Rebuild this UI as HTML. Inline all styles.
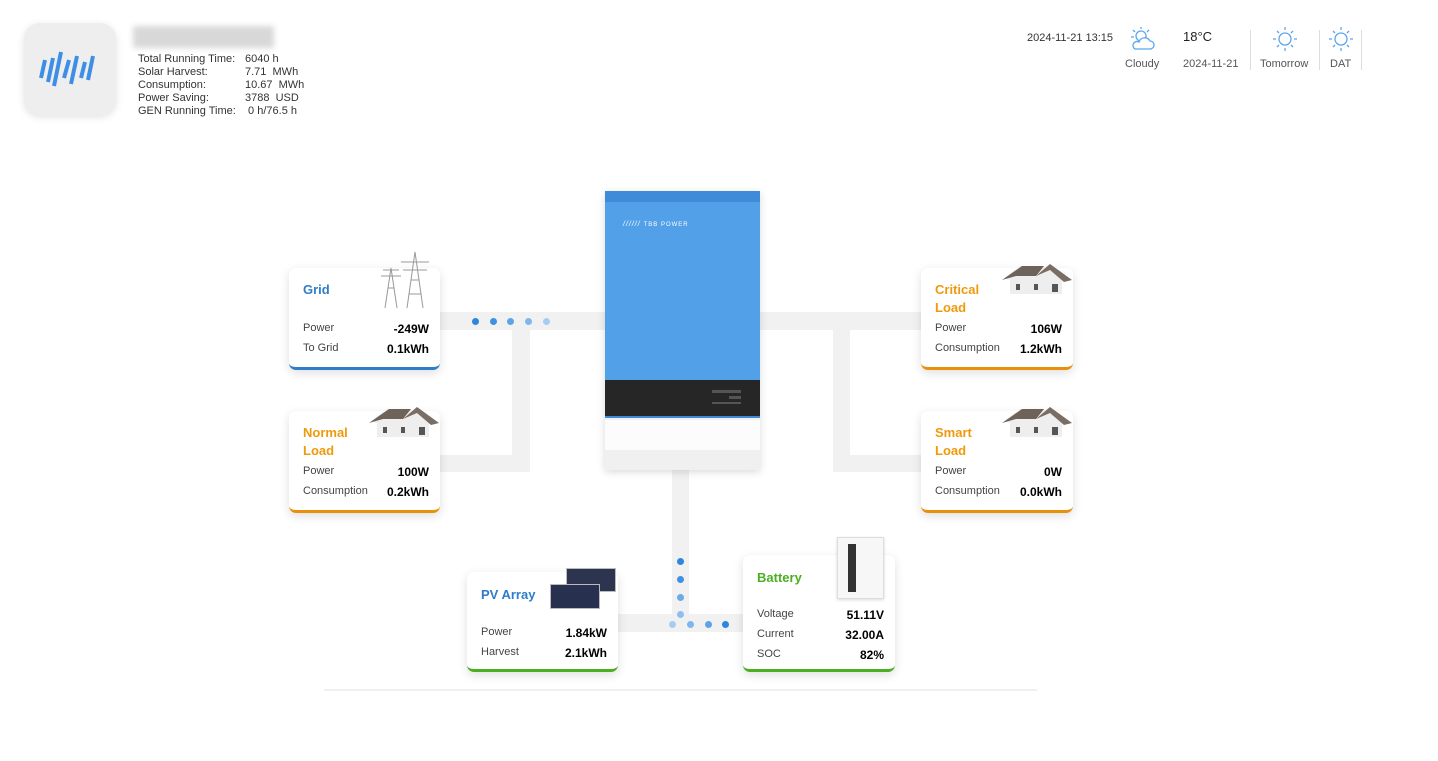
<!DOCTYPE html>
<html><head><meta charset="utf-8"><style>
*{margin:0;padding:0;box-sizing:border-box}
body{width:1438px;height:761px;background:#fff;position:relative;overflow:hidden;font-family:"Liberation Sans",Arial,sans-serif;color:#333}
.a{position:absolute}
.ln{position:absolute;background:#f1f1f1}
.card{position:absolute;background:#fff;border-radius:7px;box-shadow:0 3px 10px rgba(0,0,0,.13);border-bottom:3px solid}
.card .t{position:absolute;left:14px;font-weight:bold;font-size:13px;line-height:18px}
.row{position:absolute;left:14px;right:11px;font-size:11px;color:#444}
.row b{position:absolute;right:0;color:#000;font-size:12px}
.dot{position:absolute;width:7px;height:7px;border-radius:50%}
.info{font-size:11px;line-height:13px;color:#333}
</style></head><body>
<!-- logo -->
<div class="a" style="left:24px;top:23px;width:92px;height:92px;border-radius:16px;background:#eee;box-shadow:0 2px 8px rgba(0,0,0,.12)"></div>
<svg class="a" style="left:38px;top:48px" width="64" height="42" viewBox="0 0 64 42">
<g stroke="#3d8fe6" stroke-width="4" stroke-linecap="butt">
<line x1="7" y1="12" x2="3" y2="30"/><line x1="15" y1="10" x2="10" y2="34"/><line x1="23" y1="4" x2="16" y2="38"/><line x1="31" y1="12" x2="26" y2="30"/><line x1="39" y1="8" x2="33" y2="36"/><line x1="47" y1="14" x2="43" y2="30"/><line x1="55" y1="8" x2="50" y2="32"/></g></svg>
<div class="a" style="left:133px;top:26px;width:141px;height:22px;background:#d8d8d8;filter:blur(3px)"></div>
<div class="a info" style="left:138px;top:53px">Total Running Time:<br>Solar Harvest:<br>Consumption:<br>Power Saving:<br>GEN Running Time:</div>
<div class="a info" style="left:245px;top:53px">6040 h<br>7.71&nbsp; MWh<br>10.67&nbsp; MWh<br>3788&nbsp; USD<br>&nbsp;0 h/76.5 h</div>
<!-- weather -->
<div class="a" style="left:1027px;top:32px;font-size:11px;color:#333">2024-11-21 13:15</div>
<svg class="a" style="left:1129px;top:26px" width="28" height="26" viewBox="0 0 28 26" fill="none" stroke="#5aa7f0" stroke-width="1.3"><circle cx="12" cy="10" r="5"/><line x1="12" y1="1" x2="12" y2="3"/><line x1="4" y1="4" x2="6" y2="6"/><line x1="20" y1="4" x2="18" y2="6"/><line x1="2" y1="11" x2="5" y2="11"/><path d="M6 23h15a4 4 0 0 0 0-8 6 6 0 0 0-11 1 4 4 0 0 0-4 7z" fill="#fff"/></svg>
<div class="a" style="left:1125px;top:58px;font-size:11px;color:#555">Cloudy</div>
<div class="a" style="left:1183px;top:29px;font-size:13px;color:#222">18°C</div>
<div class="a" style="left:1183px;top:58px;font-size:11px;color:#555">2024-11-21</div>
<div class="a" style="left:1250px;top:30px;width:1px;height:40px;background:#ddd"></div>
<svg class="a" style="left:1272px;top:26px" width="26" height="26" viewBox="0 0 26 26" fill="none" stroke="#5aa7f0" stroke-width="1.3"><circle cx="13" cy="13" r="6"/><g><line x1="13" y1="1" x2="13" y2="4"/><line x1="13" y1="22" x2="13" y2="25"/><line x1="1" y1="13" x2="4" y2="13"/><line x1="22" y1="13" x2="25" y2="13"/><line x1="5" y1="5" x2="7" y2="7"/><line x1="19" y1="19" x2="21" y2="21"/><line x1="21" y1="5" x2="19" y2="7"/><line x1="5" y1="21" x2="7" y2="19"/></g></svg>
<div class="a" style="left:1260px;top:58px;font-size:11px;color:#555">Tomorrow</div>
<div class="a" style="left:1319px;top:30px;width:1px;height:40px;background:#ddd"></div>
<svg class="a" style="left:1328px;top:26px" width="26" height="26" viewBox="0 0 26 26" fill="none" stroke="#5aa7f0" stroke-width="1.3"><circle cx="13" cy="13" r="6"/><g><line x1="13" y1="1" x2="13" y2="4"/><line x1="13" y1="22" x2="13" y2="25"/><line x1="1" y1="13" x2="4" y2="13"/><line x1="22" y1="13" x2="25" y2="13"/><line x1="5" y1="5" x2="7" y2="7"/><line x1="19" y1="19" x2="21" y2="21"/><line x1="21" y1="5" x2="19" y2="7"/><line x1="5" y1="21" x2="7" y2="19"/></g></svg>
<div class="a" style="left:1330px;top:58px;font-size:11px;color:#555">DAT</div>
<div class="a" style="left:1361px;top:30px;width:1px;height:40px;background:#ddd"></div>

<!-- lines -->
<div class="ln" style="left:440px;top:312px;width:170px;height:18px"></div>
<div class="ln" style="left:755px;top:312px;width:170px;height:18px"></div>
<div class="ln" style="left:512px;top:312px;width:18px;height:160px"></div>
<div class="ln" style="left:440px;top:455px;width:90px;height:17px"></div>
<div class="ln" style="left:833px;top:312px;width:17px;height:160px"></div>
<div class="ln" style="left:833px;top:455px;width:92px;height:17px"></div>
<div class="ln" style="left:672px;top:465px;width:17px;height:167px"></div>
<div class="ln" style="left:615px;top:614px;width:132px;height:18px"></div>
<div class="a" style="left:324px;top:689px;width:713px;height:2px;background:#f0f0f0"></div>

<!-- dots -->
<div class="dot" style="left:472px;top:318px;background:#2e86de"></div>
<div class="dot" style="left:490px;top:318px;background:#3f91e2"></div>
<div class="dot" style="left:507px;top:318px;background:#5ea3e8"></div>
<div class="dot" style="left:525px;top:318px;background:#7fb6ec"></div>
<div class="dot" style="left:543px;top:318px;background:#a7cdf2"></div>
<div class="dot" style="left:677px;top:558px;background:#2e86de"></div>
<div class="dot" style="left:677px;top:576px;background:#3f91e2"></div>
<div class="dot" style="left:677px;top:594px;background:#6aabea"></div>
<div class="dot" style="left:677px;top:611px;background:#8fbfee"></div>
<div class="dot" style="left:669px;top:621px;background:#a7cdf2"></div>
<div class="dot" style="left:687px;top:621px;background:#7fb6ec"></div>
<div class="dot" style="left:705px;top:621px;background:#5ea3e8"></div>
<div class="dot" style="left:722px;top:621px;background:#2e86de"></div>

<!-- inverter -->
<div class="a" style="left:605px;top:191px;width:155px;height:279px;box-shadow:0 2px 8px rgba(0,0,0,.15);background:#f0f0f0">
<div class="a" style="left:0;top:0;width:155px;height:11px;background:#3f8ad9"></div>
<div class="a" style="left:0;top:11px;width:155px;height:178px;background:#52a0e8"></div>
<div class="a" style="left:0;top:189px;width:155px;height:38px;background:#262626;border-bottom:2px solid #3f8ad9"></div>
<div class="a" style="left:107px;top:199px;width:29px;height:3px;background:#555"></div>
<div class="a" style="left:124px;top:205px;width:12px;height:3px;background:#555"></div>
<div class="a" style="left:107px;top:211px;width:29px;height:2px;background:#555"></div>
<div class="a" style="left:0;top:229px;width:155px;height:30px;background:#fcfcfc"></div>
<div class="a" style="left:18px;top:30px;font-size:7px;color:#fff;font-style:italic;letter-spacing:1px">////// <span style="font-style:normal;font-size:6px">TBB POWER</span></div>
</div>

<!-- Grid -->
<div class="card" style="left:289px;top:268px;width:151px;height:102px;border-color:#2f7dc8">
<div class="t" style="top:13px;color:#2f7dc8">Grid</div>
<svg class="a" style="left:82px;top:-20px" width="66" height="62" viewBox="0 0 66 62" fill="none" stroke="#999" stroke-width="1"><path d="M14 60 L20 20 L26 60 M17 40 L23 40 M10 28 h20 M12 22 h16"/><path d="M36 60 L44 4 L52 60 M40 32 L48 32 M38 46 L50 46 M30 14 h28 M32 22 h24"/></svg>
<div class="row" style="top:54px">Power<b>-249W</b></div>
<div class="row" style="top:74px">To Grid<b>0.1kWh</b></div>
</div>
<!-- Normal -->
<div class="card" style="left:289px;top:411px;width:151px;height:102px;border-color:#e8900c">
<div class="t" style="top:13px;color:#ef9a0d">Normal<br>Load</div>
<svg class="a" style="left:80px;top:-6px" width="70" height="34" viewBox="0 0 70 34"><path d="M2 16 L18 4 L40 4 L68 18 L60 18 L60 32 L8 32 L8 18 Z" fill="#eee"/><path d="M0 18 L20 4 L42 4 L34 14 L14 14 Z" fill="#6e6259"/><path d="M34 14 L48 2 L70 18 L62 20 L48 8Z" fill="#7a6d63"/><rect x="14" y="22" width="4" height="6" fill="#555"/><rect x="32" y="22" width="4" height="6" fill="#555"/><rect x="50" y="22" width="6" height="8" fill="#555"/></svg>
<div class="row" style="top:54px">Power<b>100W</b></div>
<div class="row" style="top:74px">Consumption<b>0.2kWh</b></div>
</div>
<!-- Critical -->
<div class="card" style="left:921px;top:268px;width:152px;height:102px;border-color:#e8900c">
<div class="t" style="top:13px;color:#ef9a0d">Critical<br>Load</div>
<svg class="a" style="left:81px;top:-6px" width="70" height="34" viewBox="0 0 70 34"><path d="M2 16 L18 4 L40 4 L68 18 L60 18 L60 32 L8 32 L8 18 Z" fill="#eee"/><path d="M0 18 L20 4 L42 4 L34 14 L14 14 Z" fill="#6e6259"/><path d="M34 14 L48 2 L70 18 L62 20 L48 8Z" fill="#7a6d63"/><rect x="14" y="22" width="4" height="6" fill="#555"/><rect x="32" y="22" width="4" height="6" fill="#555"/><rect x="50" y="22" width="6" height="8" fill="#555"/></svg>
<div class="row" style="top:54px">Power<b>106W</b></div>
<div class="row" style="top:74px">Consumption<b>1.2kWh</b></div>
</div>
<!-- Smart -->
<div class="card" style="left:921px;top:411px;width:152px;height:102px;border-color:#e8900c">
<div class="t" style="top:13px;color:#ef9a0d">Smart<br>Load</div>
<svg class="a" style="left:81px;top:-6px" width="70" height="34" viewBox="0 0 70 34"><path d="M2 16 L18 4 L40 4 L68 18 L60 18 L60 32 L8 32 L8 18 Z" fill="#eee"/><path d="M0 18 L20 4 L42 4 L34 14 L14 14 Z" fill="#6e6259"/><path d="M34 14 L48 2 L70 18 L62 20 L48 8Z" fill="#7a6d63"/><rect x="14" y="22" width="4" height="6" fill="#555"/><rect x="32" y="22" width="4" height="6" fill="#555"/><rect x="50" y="22" width="6" height="8" fill="#555"/></svg>
<div class="row" style="top:54px">Power<b>0W</b></div>
<div class="row" style="top:74px">Consumption<b>0.0kWh</b></div>
</div>
<!-- PV -->
<div class="card" style="left:467px;top:572px;width:151px;height:100px;border-color:#4caf22">
<div class="t" style="top:14px;color:#2f7dc8">PV Array</div>
<div class="a" style="left:99px;top:-4px;width:50px;height:24px;background:#2c3450;border:1px solid #bbb"></div>
<div class="a" style="left:83px;top:12px;width:50px;height:25px;background:#283050;border:1px solid #bbb"></div>
<div class="row" style="top:54px">Power<b>1.84kW</b></div>
<div class="row" style="top:74px">Harvest<b>2.1kWh</b></div>
</div>
<!-- Battery -->
<div class="card" style="left:743px;top:555px;width:152px;height:117px;border-color:#4caf22">
<div class="t" style="top:14px;color:#4caf22">Battery</div>
<div class="a" style="left:94px;top:-18px;width:47px;height:62px;background:#f7f7f7;border:1px solid #ddd;box-shadow:0 1px 3px rgba(0,0,0,.15)"><div class="a" style="left:10px;top:6px;width:8px;height:48px;background:#333"></div></div>
<div class="row" style="top:53px">Voltage<b>51.11V</b></div>
<div class="row" style="top:73px">Current<b>32.00A</b></div>
<div class="row" style="top:93px">SOC<b>82%</b></div>
</div>
</body></html>
